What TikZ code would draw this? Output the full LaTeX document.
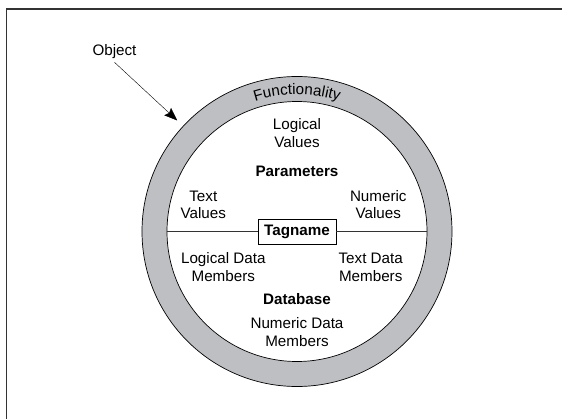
\documentclass[tikz,border=0pt]{standalone}
\usepackage{fontspec}
\setmainfont{Liberation Sans}
\usetikzlibrary{arrows.meta,decorations.text}
\definecolor{ringgray}{RGB}{190,191,195}

\begin{document}
\begin{tikzpicture}[x=1pt, y=1pt, font=\fontsize{15.2}{17.5}\selectfont,
  every node/.style={align=center},
  heading/.style={font=\fontsize{15.2}{17.5}\selectfont\bfseries}]

\useasboundingbox (-297,-186.5) rectangle (265,231.5);

% Frame
\draw[line width=1.3pt, black!80] (-290.5,-195) -- (-290.5,222.5) -- (270,222.5);

% Object ring
\node[circle, draw, fill=ringgray, minimum size=310pt, line width=0.7pt] (ring) at (0,0) {};
\node[circle, draw, fill=white, minimum size=260pt, line width=0.7pt] (core) at (0,0) {};

% Ring label
\path[decorate, decoration={text along path, text align=center,
  text={|\fontsize{15.2}{17.5}\selectfont|Functionality}}]
  (150:137) arc[start angle=150, end angle=30, radius=137];

% Tagname and divider
\node[heading, draw, fill=white, minimum width=77.7pt, minimum height=24.6pt, inner sep=0pt] (tagname) at (0,0) {Tagname};
\draw[black!80] (core.west) -- (tagname);
\draw[black!80] (core.east) -- (tagname);

% Parameters
\node (logval) at (0,98.5) {Logical\\Values};
\node[heading] (params) at (0,59.7) {Parameters};
\node (txtval) at (-93.7,26.8) {Text\\Values};
\node (numval) at (81.3,26.8) {Numeric\\Values};

% Database
\node (logdata) at (-73.7,-35.7) {Logical Data\\Members};
\node (txtdata) at (73.7,-35.7) {Text Data\\Members};
\node[heading] (database) at (0,-67.8) {Database};
\node (numdata) at (0,-100.7) {Numeric Data\\Members};

% Object pointer
\node (object) at (-182.5,179.8) {Object};
\draw[-{Stealth[length=13pt, width=10pt, inset=2pt]}, shorten >=8pt] (object.south) -- (ring);

\end{tikzpicture}
\end{document}
